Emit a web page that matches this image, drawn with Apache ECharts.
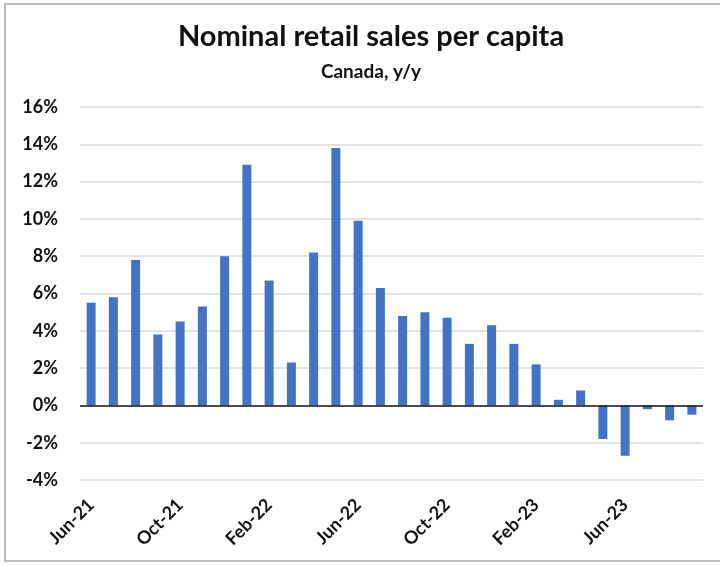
<!DOCTYPE html>
<html>
<head>
<meta charset="utf-8">
<title>Nominal retail sales per capita</title>
<script src="https://cdn.jsdelivr.net/npm/echarts@6/dist/echarts.min.js"></script>
<style>
  html, body { margin: 0; padding: 0; background: #ffffff; }
  #chart { width: 720px; height: 565px; }
</style>
</head>
<body>
<div id="chart"></div>
<script>
// Monthly periods, Jun-21 through Sep-23
const months = [
  'Jun-21', 'Jul-21', 'Aug-21', 'Sep-21', 'Oct-21', 'Nov-21', 'Dec-21',
  'Jan-22', 'Feb-22', 'Mar-22', 'Apr-22', 'May-22', 'Jun-22', 'Jul-22',
  'Aug-22', 'Sep-22', 'Oct-22', 'Nov-22', 'Dec-22', 'Jan-23', 'Feb-23',
  'Mar-23', 'Apr-23', 'May-23', 'Jun-23', 'Jul-23', 'Aug-23', 'Sep-23'
];

// Year-over-year change in nominal retail sales per capita, %
const salesYoY = [
  5.5, 5.8, 7.8, 3.8, 4.5, 5.3, 8.0,
  12.9, 6.7, 2.3, 8.2, 13.8, 9.9, 6.3,
  4.8, 5.0, 4.7, 3.3, 4.3, 3.3, 2.2,
  0.3, 0.8, -1.8, -2.7, -0.2, -0.8, -0.5
];

// Value axis range and step, %
const yMin = -4;
const yMax = 16;
const yStep = 2;

const titleText = 'Nominal retail sales per capita';
const subtitleText = 'Canada, y/y';

const FONT = 'Lato, "Open Sans", sans-serif';
const INK = '#111111';

const chart = echarts.init(document.getElementById('chart'), null, { renderer: 'canvas' });

chart.setOption({
  backgroundColor: '#ffffff',
  animation: false,
  title: [
    {
      text: titleText,
      left: 371,
      textAlign: 'center',
      top: 22,
      padding: 0,
      textStyle: { fontFamily: FONT, fontSize: 29, fontWeight: 'bold', color: INK }
    },
    {
      text: subtitleText,
      left: 371,
      textAlign: 'center',
      top: 62,
      padding: 0,
      textStyle: { fontFamily: FONT, fontSize: 19, fontWeight: 'bold', color: INK }
    }
  ],
  graphic: [
    {
      // frame around the chart (open on the right edge)
      type: 'polyline',
      silent: true,
      shape: { points: [[740, 4], [5, 4], [5, 561], [740, 561]] },
      style: { stroke: '#bdbdbd', lineWidth: 2, fill: null }
    }
  ],
  grid: { left: 80, right: 17, top: 107, bottom: 85, containLabel: false },
  xAxis: {
    type: 'category',
    data: months,
    axisLine: { show: false, onZero: false },
    axisTick: { show: false },
    axisLabel: {
      interval: 3,
      rotate: 45,
      margin: 22,
      fontFamily: FONT,
      fontSize: 18,
      fontWeight: 'bold',
      color: INK
    },
    splitLine: { show: false }
  },
  yAxis: {
    type: 'value',
    min: yMin,
    max: yMax,
    interval: yStep,
    axisLine: { show: false },
    axisTick: { show: false },
    axisLabel: {
      margin: 22,
      formatter: '{value}%',
      fontFamily: FONT,
      fontSize: 18,
      fontWeight: 'bold',
      color: INK
    },
    splitLine: { lineStyle: { color: '#d9d9d9', width: 1.5 } }
  },
  series: [
    {
      type: 'bar',
      data: salesYoY,
      barWidth: 9,
      itemStyle: { color: '#4472c4' },
      markLine: {
        // zero baseline across the plot
        silent: true,
        symbol: 'none',
        label: { show: false },
        lineStyle: { color: '#1a1a1a', width: 1.5, type: 'solid' },
        data: [{ yAxis: 0 }]
      }
    }
  ]
});
</script>
</body>
</html>
